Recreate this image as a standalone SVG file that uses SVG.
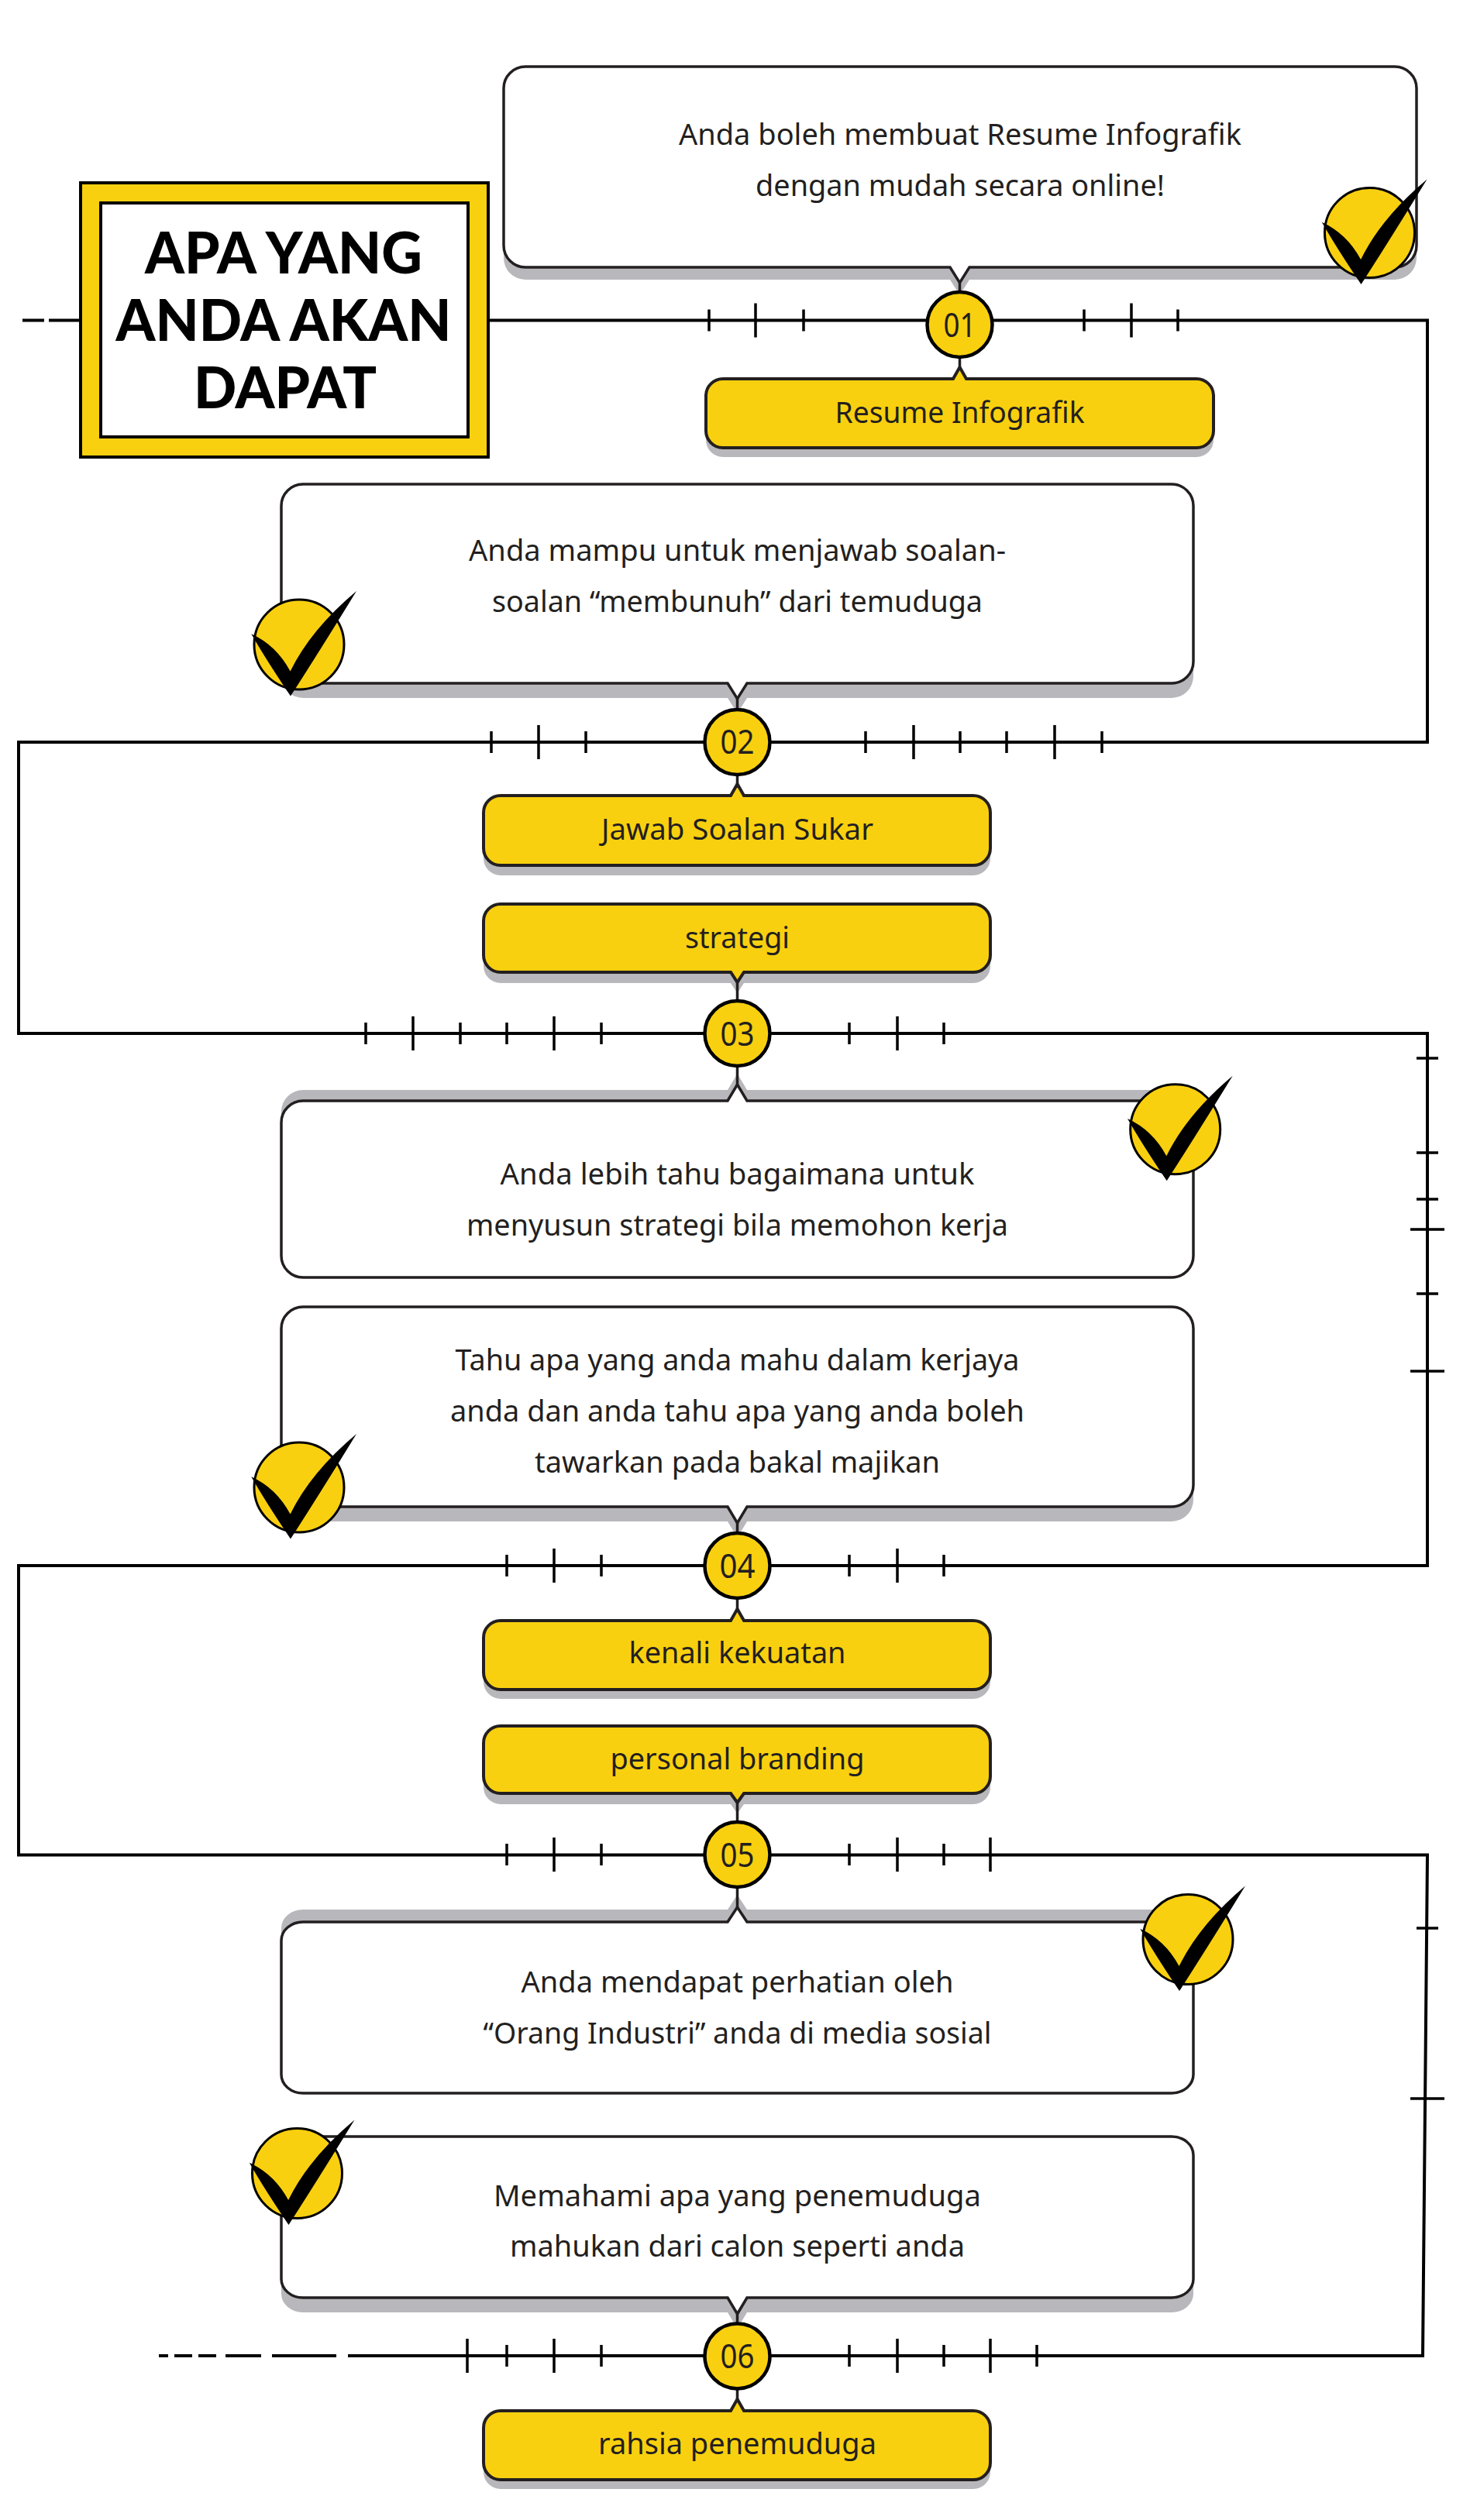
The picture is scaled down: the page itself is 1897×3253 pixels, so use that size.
<svg xmlns="http://www.w3.org/2000/svg" xmlns:xlink="http://www.w3.org/1999/xlink" width="1897" height="3253" viewBox="0 0 1897 3253">
<style>
.wire{fill:none;stroke:#000;stroke-width:4}
.tick{stroke:#000;stroke-width:3.5}
.stem{stroke:#231f20;stroke-width:3.5}
.shadow{fill:#b8b7bb;stroke:none}
.card{fill:#fff;stroke:#231f20;stroke-width:3.5}
.pill{fill:#f9d00f;stroke:#231f20;stroke-width:4}
.dot{fill:#f9d00f;stroke:#000;stroke-width:4.5}
.cdot{fill:#f9d00f;stroke:#000;stroke-width:3}
.t{font-family:"Noto Sans","Liberation Sans",sans-serif;font-size:39px;fill:#231f20;text-anchor:middle}
.n{font-family:"Noto Sans","Liberation Sans",sans-serif;font-size:44px;fill:#231f20;text-anchor:middle}
.h{font-family:Lato,"Liberation Sans",sans-serif;font-size:74px;font-weight:900;fill:#000;text-anchor:middle}
</style>
<defs>
<path id="s1" d="M678,86H1800A28,28 0 0 1 1828,114V317A28,28 0 0 1 1800,345H1251L1238.5,365L1226,345H678A28,28 0 0 1 650,317V114A28,28 0 0 1 678,86Z"/>
<path id="s2" d="M391,625H1512A28,28 0 0 1 1540,653V854A28,28 0 0 1 1512,882H964L951.5,902L939,882H391A28,28 0 0 1 363,854V653A28,28 0 0 1 391,625Z"/>
<path id="s3" d="M391,1421H939L951.5,1400L964,1421H1512A28,28 0 0 1 1540,1449V1621A28,28 0 0 1 1512,1649H391A28,28 0 0 1 363,1621V1449A28,28 0 0 1 391,1421Z"/>
<path id="s4" d="M391,1687H1512A28,28 0 0 1 1540,1715V1917A28,28 0 0 1 1512,1945H964L951.5,1966L939,1945H391A28,28 0 0 1 363,1917V1715A28,28 0 0 1 391,1687Z"/>
<path id="s5" d="M391,2481H939L951.5,2462L964,2481H1512A28,24 0 0 1 1540,2505V2678A28,24 0 0 1 1512,2702H391A28,24 0 0 1 363,2678V2505A28,24 0 0 1 391,2481Z"/>
<path id="s6" d="M391,2758H1512A28,24 0 0 1 1540,2782V2942A28,24 0 0 1 1512,2966H964L951.5,2987L939,2966H391A28,24 0 0 1 363,2942V2782A28,24 0 0 1 391,2758Z"/>
<path id="p1" d="M933,489H1230L1238.5,474L1247,489H1544A22,22 0 0 1 1566,511V556A22,22 0 0 1 1544,578H933A22,22 0 0 1 911,556V511A22,22 0 0 1 933,489Z"/>
<path id="p2" d="M646,1027H943L951.5,1012L960,1027H1256A22,22 0 0 1 1278,1049V1095A22,22 0 0 1 1256,1117H646A22,22 0 0 1 624,1095V1049A22,22 0 0 1 646,1027Z"/>
<path id="p3" d="M646,1167H1256A22,22 0 0 1 1278,1189V1233A22,22 0 0 1 1256,1255H960L951.5,1268L943,1255H646A22,22 0 0 1 624,1233V1189A22,22 0 0 1 646,1167Z"/>
<path id="p4" d="M646,2092H943L951.5,2077L960,2092H1256A22,22 0 0 1 1278,2114V2159A22,22 0 0 1 1256,2181H646A22,22 0 0 1 624,2159V2114A22,22 0 0 1 646,2092Z"/>
<path id="p5" d="M646,2228H1256A22,22 0 0 1 1278,2250V2293A22,22 0 0 1 1256,2315H960L951.5,2327L943,2315H646A22,22 0 0 1 624,2293V2250A22,22 0 0 1 646,2228Z"/>
<path id="p6" d="M646,3112H943L951.5,3097L960,3112H1256A22,22 0 0 1 1278,3134V3179A22,22 0 0 1 1256,3201H646A22,22 0 0 1 624,3179V3134A22,22 0 0 1 646,3112Z"/>
<g id="check">
<circle class="cdot" r="58"/>
<path fill="#000" d="M-61.7,-13.7Q-29.4,1 -11.4,34.6Q14.9,-19.4 74,-69Q28,6 -11,66.6Q-43.6,18.2 -61.7,-13.7Z"/>
</g>
</defs>

<g id="connectors">
<path class="wire" d="M632,413.5H1842V958H24V1334H1842V2021H24V2394.5H1842L1836,3041H449"/>
<path class="wire" d="M29,413.5H57M63,413.5H102"/>
<path class="wire" d="M205,3041H217M225,3041H248M256,3041H279M291,3041H337M351,3041H434"/>
<path class="tick" d="M915,399.5v28M975,391.5v44M1037,399.5v28M1399,399.5v28M1460,391.5v44M1520,399.5v28"/>
<path class="tick" d="M634,944v28M695,936v44M756,944v28M1117,944v28M1179,936v44M1239,944v28M1299,944v28M1361,936v44M1422,944v28"/>
<path class="tick" d="M472,1320v28M533,1312v44M594,1320v28M654,1320v28M715,1312v44M776,1320v28M1096,1320v28M1158,1312v44M1218,1320v28"/>
<path class="tick" d="M654,2007v28M715,1999v44M776,2007v28M1096,2007v28M1158,1999v44M1218,2007v28"/>
<path class="tick" d="M654,2380v28M715,2372v44M776,2380v28M1096,2380v28M1158,2372v44M1218,2380v28M1278,2372v44"/>
<path class="tick" d="M603,3019v44M654,3027v28M715,3019v44M776,3027v28M1096,3027v28M1158,3019v44M1218,3027v28M1278,3019v44M1338,3027v28"/>
<path class="tick" d="M1828,1366h28M1828,1488h28M1828,1548h28M1820,1587h44M1828,1670h28M1820,1770h44M1828,2489h28M1820,2709h44"/>
</g>

<g id="title">
<rect x="104" y="236" width="526" height="354" fill="#f9d00f" stroke="#000" stroke-width="4"/>
<rect x="130" y="262" width="474" height="302" fill="#fff" stroke="#000" stroke-width="4"/>
<text class="h" x="366" y="353" textLength="358" lengthAdjust="spacingAndGlyphs">APA YANG</text>
<text class="h" x="366" y="440" textLength="433" lengthAdjust="spacingAndGlyphs">ANDA AKAN</text>
<text class="h" x="368" y="527" textLength="236" lengthAdjust="spacingAndGlyphs">DAPAT</text>
</g>

<g id="card-1">
<use href="#s1" class="shadow" y="16"/><use href="#s1" class="card"/>
<text class="t" x="1239" y="187" textLength="726" lengthAdjust="spacingAndGlyphs">Anda boleh membuat Resume Infografik</text>
<text class="t" x="1239" y="253" textLength="528" lengthAdjust="spacingAndGlyphs">dengan mudah secara online!</text>
<use href="#check" x="1767.5" y="300.5"/>
</g>
<path class="stem" d="M1238.5,363V376M1238.5,462V476"/>
<g id="badge-01"><circle class="dot" cx="1238.5" cy="419" r="42"/><text class="n" x="1238.5" y="435" textLength="42" lengthAdjust="spacingAndGlyphs">01</text></g>
<g id="pill-1"><use href="#p1" class="shadow" y="12"/><use href="#p1" class="pill"/>
<text class="t" x="1238.5" y="546" textLength="322" lengthAdjust="spacingAndGlyphs">Resume Infografik</text></g>

<g id="card-2">
<use href="#s2" class="shadow" y="19"/><use href="#s2" class="card"/>
<text class="t" x="951.5" y="724" textLength="693" lengthAdjust="spacingAndGlyphs">Anda mampu untuk menjawab soalan-</text>
<text class="t" x="951.5" y="790" textLength="633" lengthAdjust="spacingAndGlyphs">soalan “membunuh” dari temuduga</text>
<use href="#check" x="386" y="832"/>
</g>
<g id="pill-2"><use href="#p2" class="shadow" y="13"/><use href="#p2" class="pill"/>
<text class="t" x="951.5" y="1084" textLength="351" lengthAdjust="spacingAndGlyphs">Jawab Soalan Sukar</text></g>
<path class="stem" d="M951.5,900V915M951.5,1000V1014"/>
<g id="badge-02"><circle class="dot" cx="951.5" cy="958" r="42"/><text class="n" x="951.5" y="973" textLength="44" lengthAdjust="spacingAndGlyphs">02</text></g>
<g id="pill-3"><use href="#p3" class="shadow" y="14"/><use href="#p3" class="pill"/>
<text class="t" x="951.5" y="1224" textLength="135" lengthAdjust="spacingAndGlyphs">strategi</text></g>

<g id="card-3">
<use href="#s3" class="shadow" y="-14"/><use href="#s3" class="card"/>
<text class="t" x="951.5" y="1528.5" textLength="612" lengthAdjust="spacingAndGlyphs">Anda lebih tahu bagaimana untuk</text>
<text class="t" x="951.5" y="1595" textLength="699" lengthAdjust="spacingAndGlyphs">menyusun strategi bila memohon kerja</text>
<use href="#check" x="1516.7" y="1457.7"/>
</g>
<path class="stem" d="M951.5,1266V1291M951.5,1377V1402"/>
<g id="badge-03"><circle class="dot" cx="951.5" cy="1334" r="42"/><text class="n" x="951.5" y="1350" textLength="44" lengthAdjust="spacingAndGlyphs">03</text></g>
<g id="card-4">
<use href="#s4" class="shadow" y="19"/><use href="#s4" class="card"/>
<text class="t" x="951.5" y="1769" textLength="728" lengthAdjust="spacingAndGlyphs">Tahu apa yang anda mahu dalam kerjaya</text>
<text class="t" x="951.5" y="1835" textLength="741" lengthAdjust="spacingAndGlyphs">anda dan anda tahu apa yang anda boleh</text>
<text class="t" x="951.5" y="1901" textLength="523" lengthAdjust="spacingAndGlyphs">tawarkan pada bakal majikan</text>
<use href="#check" x="386" y="1920"/>
</g>
<g id="pill-4"><use href="#p4" class="shadow" y="12"/><use href="#p4" class="pill"/>
<text class="t" x="951.5" y="2147" textLength="280" lengthAdjust="spacingAndGlyphs">kenali kekuatan</text></g>
<path class="stem" d="M951.5,1964V1978M951.5,2064V2079"/>
<g id="badge-04"><circle class="dot" cx="951.5" cy="2021" r="42"/><text class="n" x="951.5" y="2037" textLength="46" lengthAdjust="spacingAndGlyphs">04</text></g>
<g id="pill-5"><use href="#p5" class="shadow" y="14"/><use href="#p5" class="pill"/>
<text class="t" x="951.5" y="2284" textLength="328" lengthAdjust="spacingAndGlyphs">personal branding</text></g>

<g id="card-5">
<use href="#s5" class="shadow" y="-16"/><use href="#s5" class="card"/>
<text class="t" x="951.5" y="2571.5" textLength="558" lengthAdjust="spacingAndGlyphs">Anda mendapat perhatian oleh</text>
<text class="t" x="951.5" y="2638" textLength="656" lengthAdjust="spacingAndGlyphs">“Orang Industri” anda di media sosial</text>
<use href="#check" x="1533" y="2503.5"/>
</g>
<path class="stem" d="M951.5,2325V2352M951.5,2436V2464"/>
<g id="badge-05"><circle class="dot" cx="951.5" cy="2394" r="42"/><text class="n" x="951.5" y="2410" textLength="44" lengthAdjust="spacingAndGlyphs">05</text></g>
<g id="card-6">
<use href="#s6" class="shadow" y="19"/><use href="#s6" class="card"/>
<text class="t" x="951.5" y="2847.5" textLength="629" lengthAdjust="spacingAndGlyphs">Memahami apa yang penemuduga</text>
<text class="t" x="951.5" y="2913" textLength="587" lengthAdjust="spacingAndGlyphs">mahukan dari calon seperti anda</text>
<use href="#check" x="383.5" y="2805.5"/>
</g>
<g id="pill-6"><use href="#p6" class="shadow" y="12"/><use href="#p6" class="pill"/>
<text class="t" x="951.5" y="3168" textLength="359" lengthAdjust="spacingAndGlyphs">rahsia penemuduga</text></g>
<path class="stem" d="M951.5,2985V2998M951.5,3085V3099"/>
<g id="badge-06"><circle class="dot" cx="951.5" cy="3041.5" r="42"/><text class="n" x="951.5" y="3057" textLength="44" lengthAdjust="spacingAndGlyphs">06</text></g>
</svg>
